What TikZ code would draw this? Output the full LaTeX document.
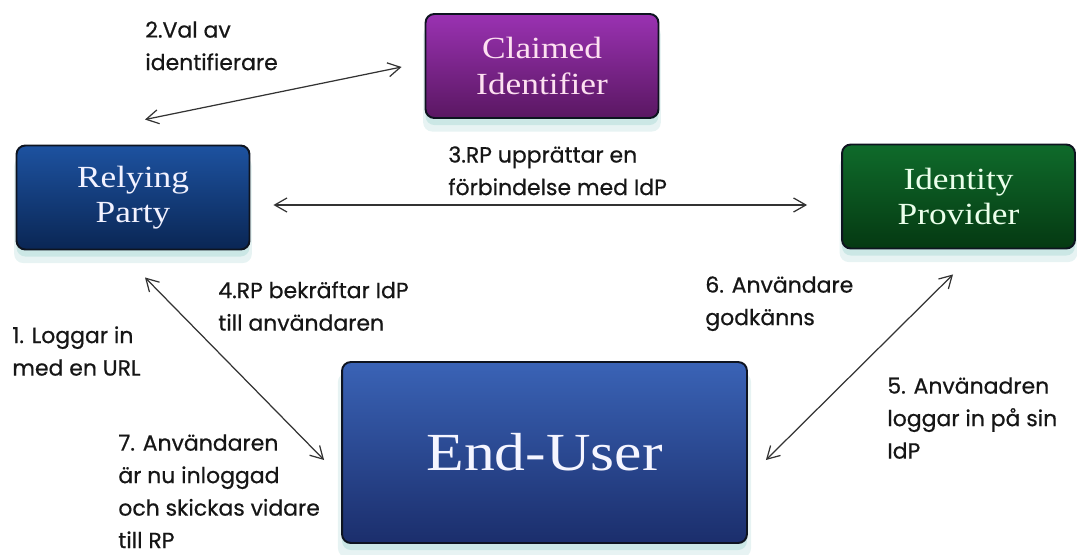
\documentclass[tikz,border=0pt]{standalone}
\usepackage{fontspec}
\usepackage{tikz}
\usetikzlibrary{arrows.meta,calc,shadows}
\newfontfamily\boxfont[FakeStretch=1.15]{Liberation Serif}
\newfontfamily\stepfont[FakeBold=0.6]{Poppins}
\definecolor{boxedge}{HTML}{0E1420}
\definecolor{glow}{HTML}{B9DEDC}
\definecolor{rptop}{HTML}{1D52A0}
\definecolor{rpbot}{HTML}{0A2654}
\definecolor{citop}{HTML}{9A32B2}
\definecolor{cibot}{HTML}{5A1762}
\definecolor{iptop}{HTML}{0F6B2B}
\definecolor{ipbot}{HTML}{053912}
\definecolor{eutop}{HTML}{3A63B6}
\definecolor{eubot}{HTML}{1B2E6C}
\definecolor{arrowgray}{HTML}{333333}
\definecolor{labeltext}{HTML}{161616}

\begin{document}
\begin{tikzpicture}[
			x=0.02cm,y=-0.02cm,
			box/.style={draw=boxedge,line width=1.1pt,rounded corners=5pt,minimum width=4.66cm,minimum height=2.08cm,align=center,font=\boxfont\fontsize{17.5}{20}\selectfont,drop shadow={shadow xshift=0pt,shadow yshift=-7pt,shadow scale=1.02,fill=glow,opacity=.35},drop shadow={shadow xshift=0pt,shadow yshift=-4pt,fill=glow,opacity=.6}},
			rpbox/.style={box,top color=rptop,bottom color=rpbot,text=blue!5},
			cibox/.style={box,top color=citop,bottom color=cibot,text=magenta!12},
			ipbox/.style={box,top color=iptop,bottom color=ipbot,text=green!8},
			eubox/.style={box,top color=eutop,bottom color=eubot,text=blue!4,minimum width=8.1cm,minimum height=3.62cm,font=\boxfont\fontsize{30.5}{34}\selectfont},
			lbl/.style={anchor=north west,inner sep=0pt,align=left,text=labeltext,font=\stepfont\fontsize{12.5}{18.5}\selectfont},
			arr/.style={{Straight Barb[length=7pt,width=8pt]}-{Straight Barb[length=7pt,width=8pt]},line width=0.7pt,arrowgray}
			]
			\useasboundingbox (0,0) rectangle (1077,554);
			\node[rpbox] (rp) at (133,197.5) {Relying\\Party};
			\node[cibox] (ci) at (542,66) {Claimed\\Identifier};
			\node[ipbox] (ip) at (958.5,196.5) {Identity\\Provider};
			\node[eubox] (eu) at (544.5,452.5) {End-User};
			\draw[arr] ($(rp.north)+(12,-25)$)--($(ci.west)+(-23,1)$);
			\draw[arr] ($(rp.east)+(23,7.5)$)--($(ip.west)+(-34,8.5)$);
			\draw[arr] ($(rp.south)+(12,27)$)--($(eu.west)+(-17,7.5)$);
			\draw[arr] ($(eu.east)+(18,7.5)$)--($(ip.south)+(-5.5,25)$);
			\node[lbl] (l2) at (145,21) {2.Val av\\identifierare};
			\node[lbl] (l3) at (448,146) {3.RP upprättar en\\förbindelse med IdP};
			\node[lbl] (l4) at (218,281) {4.RP bekräftar IdP\\till användaren};
			\node[lbl] (l1) at (12,326) {1. Loggar in\\med en URL};
			\node[lbl] (l7) at (118,434) {7. Användaren\\är nu inloggad\\och skickas vidare\\till RP};
			\node[lbl] (l6) at (705,276) {6. Användare\\godkänns};
			\node[lbl] (l5) at (887,377) {5. Använadren\\loggar in på sin\\IdP};
		\end{tikzpicture}
\end{document}
